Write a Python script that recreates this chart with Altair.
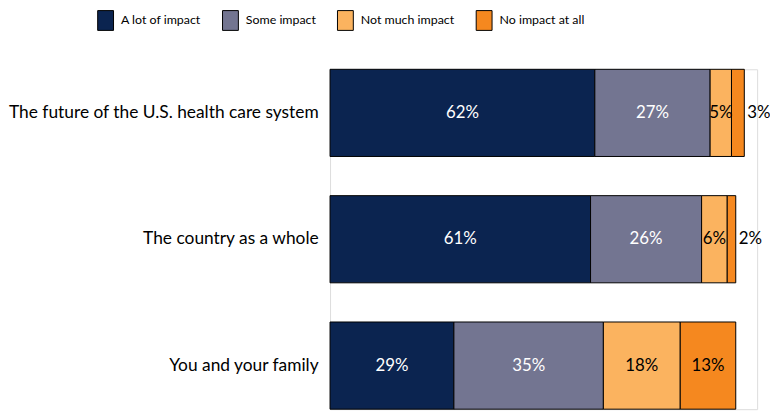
import altair as alt
import pandas as pd

categories = [
    "The future of the U.S. health care system",
    "The country as a whole",
    "You and your family",
]
levels = ["A lot of impact", "Some impact", "Not much impact", "No impact at all"]
colors = ["#0B2450", "#737591", "#FBB35F", "#F5881F"]
label_colors = ["white", "white", "black", "black"]

v_lot = [62, 61, 29]
v_some = [27, 26, 35]
v_notmuch = [5, 6, 18]
v_none = [3, 2, 13]

rows = []
for i, cat in enumerate(categories):
    start = 0
    for j, (lev, vals) in enumerate(zip(levels, [v_lot, v_some, v_notmuch, v_none])):
        v = vals[i]
        rows.append(dict(category=cat, level=lev, order=j, value=v, start=start,
                         end=start + v, mid=start + v / 2, label=f"{v}%",
                         outside=bool(v <= 3), tcolor=label_colors[j]))
        start += v
df = pd.DataFrame(rows)

FONT = "Lato"

y_axis = alt.Axis(title=None, domain=False, ticks=False, labelPadding=12,
                  labelFontSize=17.5, labelFont=FONT, labelColor="black",
                  labelLimit=400)
y_enc = alt.Y("category:N", sort=categories,
              scale=alt.Scale(paddingInner=0.31, paddingOuter=0), axis=y_axis)
x_scale = alt.Scale(domain=[0, 100], nice=False, zero=True)

bars = alt.Chart(df).mark_bar(stroke="black", strokeWidth=1).encode(
    x=alt.X("start:Q", scale=x_scale, axis=None),
    x2="end:Q",
    y=y_enc,
    color=alt.Color("level:N", sort=levels,
                    scale=alt.Scale(domain=levels, range=colors),
                    legend=alt.Legend(title=None, orient="none", legendX=-237, legendY=-60,
                                      direction="horizontal", columns=4, columnPadding=19,
                                      labelOffset=5, labelFontSize=12.5, labelFont=FONT,
                                      labelColor="black", symbolType="M-0.8,-1H0.8V1H-0.8Z",
                                      symbolSize=400, symbolStrokeColor="black",
                                      symbolStrokeWidth=1, symbolOpacity=1)),
    order="order:Q",
)

inside = alt.Chart(df).transform_filter("!datum.outside").mark_text(
    fontSize=17, font=FONT, align="center", baseline="middle"
).encode(
    x=alt.X("mid:Q", scale=x_scale, axis=None),
    y=alt.Y("category:N", sort=categories, axis=y_axis),
    text="label:N",
    color=alt.Color("tcolor:N", scale=None),
)

outside = alt.Chart(df).transform_filter("datum.outside").mark_text(
    fontSize=17, font=FONT, align="left", baseline="middle", dx=3, color="black"
).encode(
    x=alt.X("end:Q", scale=x_scale, axis=None),
    y=alt.Y("category:N", sort=categories, axis=y_axis),
    text="label:N",
)

chart = alt.layer(bars, inside, outside).properties(
    width=431, height=343,
    autosize=alt.AutoSizeParams(type="none"),
    padding={"left": 325, "top": 60, "right": 13, "bottom": 2},
).configure_view(stroke=None, strokeWidth=0).configure_axis(
    domain=False, ticks=False, grid=False
).configure(background="white")

chart.save("out.html", embed_options={"renderer": "svg", "actions": False})
